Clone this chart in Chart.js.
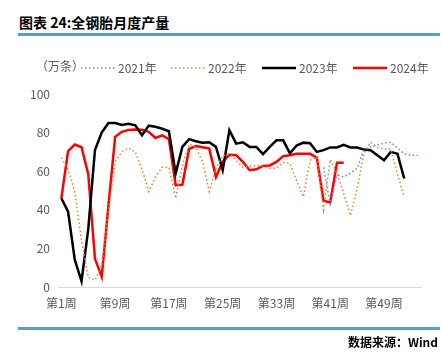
<!DOCTYPE html>
<html>
<head>
<meta charset="utf-8">
<script src="https://cdn.jsdelivr.net/npm/chart.js@4.4.1/dist/chart.umd.min.js"></script>
<style>
  html, body { margin: 0; padding: 0; background: #fff; }
  #wrap { position: relative; width: 442px; height: 363px; overflow: hidden; }
  #title {
    position: absolute; left: 19px; top: 12px;
    font: bold 14px "Noto Sans CJK SC", sans-serif; color: #000; line-height: 20px;
  }
  .rule { position: absolute; left: 18px; width: 422px; height: 3px; background: #5B9BD5; }
  #source {
    position: absolute; right: 4px; top: 334px;
    font: bold 12px "Noto Sans CJK SC", sans-serif; color: #000; line-height: 16px;
  }
  canvas { position: absolute; left: 0; top: 0; }
</style>
</head>
<body>
<div id="wrap">
  <div id="title">图表 24:全钢胎月度产量</div>
  <div class="rule" style="top:33px"></div>
  <canvas id="chart" width="442" height="363"></canvas>
  <div class="rule" style="top:327px"></div>
  <div id="source">数据来源：Wind</div>
</div>
<script>
// weekly output, 万条
const weeks = [];
for (let i = 1; i <= 54; i++) weeks.push("第" + i + "周");
const tickWeeks = ["第1周", "第9周", "第17周", "第25周", "第33周", "第41周", "第49周"];
const yTicks = [0, 20, 40, 60, 80, 100];
const unitLabel = "（万条）";
const seriesNames = ["2021年", "2022年", "2023年", "2024年"];

const y2021 = [null, null, null, null, null, null, null, null, null, null,
  null, null, null, null, null, null, null, null, null, null,
  null, null, null, null, null, null, null, null, null, null,
  null, null, null, null, null, null, null, null, null, 62,
  43, 58, 57, 59, 61.5, 71, 72.5, 73.5, 74.5, 75,
  72, 69, 68.3, 68.3];
const y2022 = [67, 61, 49, 24, 5, 3.5, 11, 39, 65, 70,
  72, 70, 61, 49.5, 57, 62, 62, 46, 63, 74,
  72.5, 65, 49.5, 61.5, 68, 69, 65.7, 62, 62.5, 63,
  62.5, 61.5, 61.5, 64.5, 64, 55, 46.7, 65.7, 67.4, 40,
  66, 59, 48.5, 37, 51, 69, 75, 72.3, 71.5, 71.5,
  58.5, 46.7, null, null];
const y2023 = [46, 39, 14, 3, 30, 71, 80, 85, 85, 84,
  84.6, 83.8, 78.6, 83.6, 83, 82, 80.7, 58.8, 72.6, 76.6,
  75.5, 74.8, 75, 72.6, 60.5, 81.2, 74.3, 75, 72.6, 72.6,
  68.8, 72.6, 76, 76, 69.3, 73.3, 74.8, 74.5, 70, 70.9,
  72.3, 72.3, 73.6, 72.3, 72.3, 71.2, 70.9, 68.3, 65.7, 70,
  69, 56.2, null, null];
const y2024 = [46, 70.4, 73.8, 72.4, 58.5, 14.6, 5.3, 42, 77.8, 80.4,
  81.4, 81.6, 81.5, 80.4, 77.2, 78.6, 76.6, 52.8, 53, 71.5,
  73, 72.4, 71.7, 57, 65, 68.5, 68.3, 64.8, 60.5, 61,
  62.7, 63, 64.8, 67.8, 68.3, 69, 69, 69, 67, 44.7,
  43.8, 64.4, 64.4];

const FONT = '"Noto Sans CJK SC", sans-serif';
const GREY = "#595959";

// legend drawn by hand so the dotted styles show like the original
const legendPlugin = {
  id: "topLegend",
  afterDraw(chart) {
    const ctx = chart.ctx;
    const y = 68;
    const starts = [81, 171, 262, 353];
    ctx.save();
    ctx.font = "12px " + FONT;
    ctx.fillStyle = GREY;
    ctx.textBaseline = "middle";
    ctx.fillText(unitLabel, 36, y - 2);
    chart.data.datasets.forEach((ds, i) => {
      const x = starts[i];
      ctx.strokeStyle = ds.borderColor;
      ctx.lineWidth = ds.borderWidth;
      ctx.setLineDash(ds.borderDash || []);
      ctx.beginPath();
      ctx.moveTo(x, y);
      ctx.lineTo(x + 34, y);
      ctx.stroke();
      ctx.setLineDash([]);
      ctx.fillStyle = GREY;
      ctx.fillText(ds.label, x + 37, y);
    });
    ctx.restore();
  },
};

new Chart(document.getElementById("chart"), {
  type: "line",
  data: {
    labels: weeks,
    datasets: [
      { label: seriesNames[0], data: y2021, borderColor: "#5B8FD5", borderWidth: 1.5, borderDash: [1.5, 2.5] },
      { label: seriesNames[1], data: y2022, borderColor: "#ED7D31", borderWidth: 1.5, borderDash: [1.5, 2.5] },
      { label: seriesNames[2], data: y2023, borderColor: "#000000", borderWidth: 2.5 },
      { label: seriesNames[3], data: y2024, borderColor: "#FF0000", borderWidth: 2.5 },
    ],
  },
  options: {
    responsive: false,
    animation: false,
    layout: { padding: { left: 0, top: 94, right: 21, bottom: 0 } },
    elements: { point: { radius: 0 }, line: { tension: 0, fill: false } },
    plugins: { legend: { display: false }, tooltip: { enabled: false } },
    scales: {
      x: {
        offset: true,
        grid: { display: false, drawTicks: false },
        border: { display: true, color: "#D9D9D9", width: 1 },
        afterFit: (s) => { s.height = 76; },
        ticks: {
          autoSkip: false,
          maxRotation: 0,
          padding: 9,
          color: GREY,
          font: { family: FONT, size: 12 },
          callback(v) {
            const l = this.getLabelForValue(v);
            return tickWeeks.includes(l) ? l : "";
          },
        },
      },
      y: {
        min: 0,
        max: 100,
        afterFit: (s) => { s.width = 58; },
        afterBuildTicks: (s) => { s.ticks = yTicks.map((v) => ({ value: v })); },
        grid: { display: false, drawTicks: false },
        border: { display: false },
        ticks: { padding: 8, color: GREY, font: { family: FONT, size: 12 } },
      },
    },
  },
  plugins: [legendPlugin],
});
</script>
</body>
</html>
